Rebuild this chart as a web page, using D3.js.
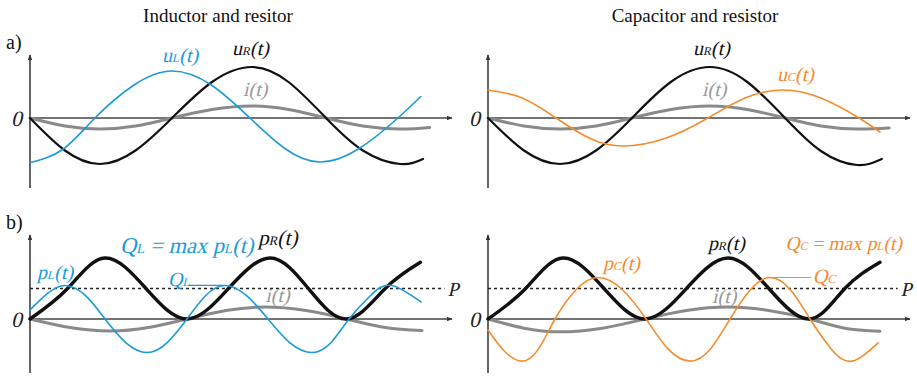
<!DOCTYPE html>
<html>
<head>
<meta charset="utf-8">
<script src="https://cdn.jsdelivr.net/npm/d3@7"></script>
<style>
  body { margin: 0; background: #fff; }
  svg { display: block; }
</style>
</head>
<body>
<svg id="chart" width="917" height="377"></svg>
<script>
// ---- waveforms: [time in ms, relative value] ----
// a) voltages and current
const uR_top = [[0,0],[2.35,-0.65],[4.71,-0.92],[7.1,-0.65],[9.56,0],[12.25,0.72],[14.94,1.02],[17.4,0.72],[19.92,0],[22.4,-0.65],[24.9,-0.92],[26.45,-0.82]];
const i_top  = [[0,0],[2.35,-0.16],[4.71,-0.22],[7.1,-0.16],[9.56,0],[12.25,0.17],[14.94,0.24],[17.4,0.17],[19.92,0],[22.4,-0.16],[24.9,-0.22],[26.9,-0.19]];
const uL     = [[0,-0.89],[2.2,-0.63],[4.37,0],[7.0,0.66],[9.56,0.94],[12.2,0.66],[14.8,0],[17.2,-0.62],[19.5,-0.88],[22.1,-0.62],[24.76,0],[26.3,0.43]];
const uR_topC = [[0,0],[2.42,-0.65],[4.85,-0.92],[7.27,-0.65],[9.69,0],[12.3,0.72],[14.94,1.02],[17.45,0.72],[19.99,0],[22.4,-0.66],[24.83,-0.94],[26.5,-0.82]];
const i_topC = [[0,0],[2.42,-0.16],[4.85,-0.22],[7.27,-0.16],[9.69,0],[12.3,0.17],[14.94,0.24],[17.45,0.17],[19.99,0],[22.4,-0.16],[24.83,-0.22],[27.0,-0.2]];
const uC     = [[0,0.56],[2.3,0.4],[4.58,0],[6.8,-0.4],[9.08,-0.56],[12.0,-0.4],[14.8,0],[17.3,0.4],[19.78,0.56],[22.4,0.4],[24.97,0],[26.38,-0.28]];

// b) powers and current
const pR_L = [[0,0],[2.35,0.5],[4.69,1.0],[7.25,0.5],[9.81,0],[12.4,0.5],[15.0,1.0],[17.4,0.5],[19.81,0],[22.2,0.5],[24.4,0.93]];
const i_L  = [[0,0],[2.5,-0.14],[5.0,-0.197],[7.4,-0.14],[9.81,0],[12.25,0.14],[14.7,0.197],[17.25,0.14],[19.81,0],[22.2,-0.14],[24.5,-0.19]];
const pL   = [[0,0.15],[1.1,0.42],[2.19,0.55],[3.44,0.39],[4.69,0],[6.0,-0.39],[7.31,-0.55],[8.56,-0.39],[9.81,0],[11.0,0.39],[12.19,0.55],[13.5,0.39],[14.88,0],[16.25,-0.39],[17.63,-0.55],[18.8,-0.39],[19.94,0],[21.3,0.39],[22.6,0.55],[24.44,0.28]];
const pR_C = [[0,0],[2.35,0.5],[4.69,1.0],[7.25,0.5],[9.81,0],[12.4,0.5],[15.0,1.0],[17.55,0.5],[20.1,0],[22.3,0.5],[24.5,0.93]];
const i_C  = [[0,0],[2.25,-0.15],[4.5,-0.21],[7.15,-0.15],[9.81,0],[12.4,0.14],[15.0,0.197],[17.55,0.14],[20.1,0],[22.3,-0.15],[24.5,-0.2]];
const pC   = [[0,-0.18],[1.0,-0.52],[2.13,-0.69],[3.16,-0.49],[4.19,0],[5.5,0.48],[6.88,0.68],[8.4,0.48],[9.88,0],[11.25,-0.49],[12.63,-0.69],[13.9,-0.49],[15.13,0],[16.4,0.48],[17.63,0.68],[18.9,0.48],[20.13,0],[21.45,-0.49],[22.75,-0.69],[24.38,-0.39]];

// mean power of the resistor
const P_avg = 0.5;

const titles = ["Inductor and resitor", "Capacitor and resistor"];
const rowTags = ["a)", "b)"];

const BLUE = "#1b9ad8", ORANGE = "#f68b2e", GREY = "#8a8a8a", INK = "#111";
const SERIF = "'Liberation Serif', 'Times New Roman', serif";

const svg = d3.select("#chart");

// arrowhead for the axes
svg.append("defs").append("marker")
  .attr("id", "arrow").attr("viewBox", "0 0 8 6")
  .attr("refX", 7).attr("refY", 3)
  .attr("markerWidth", 6).attr("markerHeight", 4.5)
  .attr("markerUnits", "userSpaceOnUse")
  .attr("orient", "auto")
  .append("path").attr("d", "M0,0L8,3L0,6Z").attr("fill", "#333");

// rows: x in ms, y relative
const rows = [
  { xDomain: [0, 28.4],   yDomain: [-1.4, 1.26],   yRange: [188, 55] },
  { xDomain: [0, 26.375], yDomain: [-0.885, 1.377], yRange: [373, 235] }
];
const colLeft = [30, 488];
const axisLen = 422;

function scalesFor(row, col) {
  const r = rows[row];
  const x = d3.scaleLinear().domain(r.xDomain).range([colLeft[col], colLeft[col] + axisLen]);
  const y = d3.scaleLinear().domain(r.yDomain).range(r.yRange);
  return { x, y };
}

// slanted serif text (italic look built from the upright face)
function slanted(g, x, y, size, color, anchor) {
  return g.append("g")
    .attr("transform", `translate(${x},${y}) skewX(-13)`)
    .append("text")
    .attr("x", 0).attr("y", 0)
    .attr("text-anchor", anchor || "start")
    .attr("font-family", SERIF)
    .attr("font-size", size).attr("fill", color);
}

function drawAxes(g, s) {
  const xa = g.append("g").attr("transform", `translate(0,${s.y(0)})`)
    .call(d3.axisBottom(s.x).tickValues([]).tickSizeOuter(0));
  xa.select(".domain")
    .attr("d", `M${s.x.range()[0]},0H${s.x.range()[1]}`)
    .attr("stroke", "#444").attr("stroke-width", 1.4)
    .attr("marker-end", "url(#arrow)");
  const ya = g.append("g").attr("transform", `translate(${s.x(0)},0)`)
    .call(d3.axisLeft(s.y).tickValues([]).tickSizeOuter(0));
  ya.select(".domain")
    .attr("d", `M0,${s.y.range()[0]}V${s.y.range()[1]}`)
    .attr("stroke", "#555").attr("stroke-width", 1.8)
    .attr("marker-end", "url(#arrow)");
  slanted(g, s.x(0) - 8, s.y(0) + 8, 22, "#222", "end").text("0");
}

function drawCurve(g, s, data, color, width) {
  const line = d3.line().x(d => s.x(d[0])).y(d => s.y(d[1])).curve(d3.curveNatural);
  g.append("path").datum(data)
    .attr("d", line)
    .attr("fill", "none")
    .attr("stroke", color)
    .attr("stroke-width", width)
    .attr("stroke-linejoin", "round")
    .attr("stroke-linecap", "round");
}

// label with small subscript parts; parts = [[text, isSub], ...]
function mathLabel(g, x, y, parts, size, color) {
  const t = slanted(g, x, y, size, color);
  parts.forEach(([txt, sub]) => {
    t.append("tspan")
      .attr("font-size", sub ? size * 0.6 : size)
      .text(txt);
  });
  return t;
}

function drawPLine(g, s, tEnd) {
  g.append("line")
    .attr("x1", s.x(0)).attr("x2", s.x(tEnd))
    .attr("y1", s.y(P_avg)).attr("y2", s.y(P_avg))
    .attr("stroke", "#222").attr("stroke-width", 1.4)
    .attr("stroke-dasharray", "3,3");
  slanted(g, s.x(tEnd) + 3, s.y(P_avg) + 7, 20, "#222").text("P");
}

// titles and row tags
titles.forEach((t, k) => {
  svg.append("text")
    .attr("x", [218, 695][k]).attr("y", 22)
    .attr("text-anchor", "middle")
    .attr("font-family", SERIF).attr("font-size", 19).attr("fill", "#111")
    .text(t);
});
rowTags.forEach((t, k) => {
  svg.append("text")
    .attr("x", 6).attr("y", [49, 229][k])
    .attr("font-family", SERIF).attr("font-size", 20).attr("fill", "#111")
    .text(t);
});

// ---- a) inductor ----
{
  const g = svg.append("g"), s = scalesFor(0, 0);
  drawAxes(g, s);
  drawCurve(g, s, i_top, GREY, 3);
  drawCurve(g, s, uR_top, INK, 2.2);
  drawCurve(g, s, uL, BLUE, 1.6);
  mathLabel(g, s.x(8.88), s.y(1.12), [["u", false], ["L", true], ["(t)", false]], 20, BLUE);
  mathLabel(g, s.x(13.6), s.y(1.26), [["u", false], ["R", true], ["(t)", false]], 20, INK);
  mathLabel(g, s.x(14.33), s.y(0.44), [["i(t)", false]], 20, "#999");
}

// ---- a) capacitor ----
{
  const g = svg.append("g"), s = scalesFor(0, 1);
  drawAxes(g, s);
  drawCurve(g, s, i_topC, GREY, 3);
  drawCurve(g, s, uR_topC, INK, 2.2);
  drawCurve(g, s, uC, ORANGE, 1.6);
  mathLabel(g, s.x(13.8), s.y(1.26), [["u", false], ["R", true], ["(t)", false]], 20, INK);
  mathLabel(g, s.x(14.4), s.y(0.44), [["i(t)", false]], 20, "#999");
  mathLabel(g, s.x(19.45), s.y(0.74), [["u", false], ["C", true], ["(t)", false]], 20, ORANGE);
}

// ---- b) inductor ----
{
  const g = svg.append("g"), s = scalesFor(1, 0);
  drawAxes(g, s);
  drawPLine(g, s, 25.9);
  drawCurve(g, s, i_L, GREY, 3);
  drawCurve(g, s, pR_L, INK, 3.4);
  drawCurve(g, s, pL, BLUE, 1.6);
  const qL = d3.max(pL, d => d[1]);
  const peak = pL.find(d => d[1] === qL && d[0] > 10);
  g.append("line")
    .attr("x1", s.x(9.9)).attr("x2", s.x(peak[0]))
    .attr("y1", s.y(qL)).attr("y2", s.y(qL))
    .attr("stroke", BLUE).attr("stroke-width", 1.2);
  mathLabel(g, s.x(8.63), s.y(qL) + 1, [["Q", false], ["L", true]], 20, BLUE);
  mathLabel(g, s.x(0.44), s.y(0.66), [["p", false], ["L", true], ["(t)", false]], 20, BLUE);
  mathLabel(g, s.x(5.63), s.y(1.08), [["Q", false], ["L", true], [" = max p", false], ["L", true], ["(t)", false]], 22.5, BLUE);
  mathLabel(g, s.x(14.25), s.y(1.21), [["p", false], ["R", true], ["(t)", false]], 21.5, INK);
  mathLabel(g, s.x(14.7), s.y(0.28), [["i(t)", false]], 20, "#999");
}

// ---- b) capacitor ----
{
  const g = svg.append("g"), s = scalesFor(1, 1);
  drawAxes(g, s);
  drawPLine(g, s, 25.6);
  drawCurve(g, s, i_C, GREY, 3);
  drawCurve(g, s, pR_C, INK, 3.4);
  drawCurve(g, s, pC, ORANGE, 1.6);
  const qC = d3.max(pC, d => d[1]);
  const peak = pC.find(d => d[1] === qC && d[0] > 10);
  g.append("line")
    .attr("x1", s.x(peak[0])).attr("x2", s.x(20.2))
    .attr("y1", s.y(qC)).attr("y2", s.y(qC))
    .attr("stroke", ORANGE).attr("stroke-width", 1.2);
  mathLabel(g, s.x(20.3), s.y(qC) + 5, [["Q", false], ["C", true]], 20.5, ORANGE);
  mathLabel(g, s.x(7.19), s.y(0.8), [["p", false], ["C", true], ["(t)", false]], 20, ORANGE);
  mathLabel(g, s.x(13.75), s.y(1.13), [["p", false], ["R", true], ["(t)", false]], 20, INK);
  mathLabel(g, s.x(18.6), s.y(1.13), [["Q", false], ["C", true], [" = max p", false], ["L", true], ["(t)", false]], 19.5, ORANGE);
  mathLabel(g, s.x(14.0), s.y(0.26), [["i(t)", false]], 20, "#999");
}
</script>
</body>
</html>
